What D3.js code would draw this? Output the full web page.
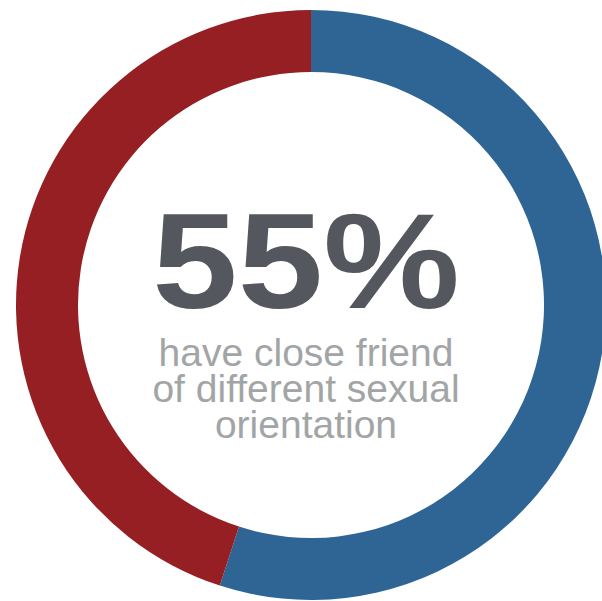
<!DOCTYPE html>
<html>
<head>
<meta charset="utf-8">
<script src="https://cdn.jsdelivr.net/npm/d3@7"></script>
<style>
  html, body { margin: 0; padding: 0; background: #fff; }
  svg { display: block; }
</style>
</head>
<body>
<script>
const categories = ["Have close friend of different sexual orientation", "Do not"];
const values = [55, 45];
const colors = ["#2e6595", "#951f22"];
const bigLabel = "55%";
const subLines = ["have close friend", "of different sexual", "orientation"];

const W = 602, H = 601;
const cx = 311, cy = 305, rOuter = 295, rInner = 233;

const svg = d3.select("body").append("svg").attr("width", W).attr("height", H);
const g = svg.append("g").attr("transform", `translate(${cx},${cy})`);

const pie = d3.pie().sort(null).value(d => d)(values);
const arc = d3.arc().innerRadius(rInner).outerRadius(rOuter);
const color = d3.scaleOrdinal().domain(categories).range(colors);

g.selectAll("path").data(pie).join("path")
  .attr("d", arc)
  .attr("fill", (d, i) => color(categories[i]));

svg.append("g").attr("transform", `translate(306,308) scale(1.13,1)`)
  .append("text")
  .attr("text-anchor", "middle")
  .attr("font-family", "'Liberation Sans', Arial, sans-serif")
  .attr("font-weight", "bold")
  .attr("font-size", 136)
  .attr("fill", "#54585e")
  .text(bigLabel);

const sub = svg.append("text")
  .attr("text-anchor", "middle")
  .attr("font-family", "'Liberation Sans', Arial, sans-serif")
  .attr("font-size", 39)
  .attr("fill", "#a2a5a5");
sub.selectAll("tspan").data(subLines).join("tspan")
  .attr("x", 306)
  .attr("y", (d, i) => 366 + i * 36)
  .text(d => d);
</script>
</body>
</html>
